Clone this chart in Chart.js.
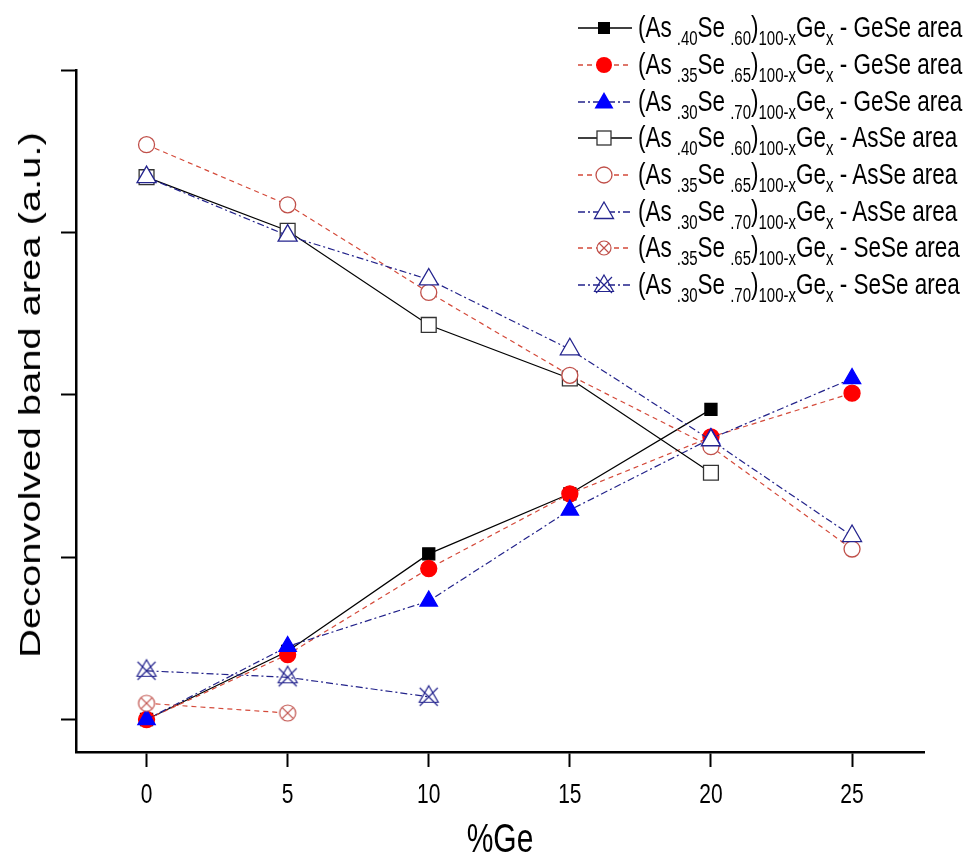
<!DOCTYPE html>
<html>
<head>
<meta charset="utf-8">
<script src="https://cdn.jsdelivr.net/npm/chart.js@4.4.1/dist/chart.umd.min.js"></script>
<style>
  html, body { margin: 0; padding: 0; background: #fff; overflow: hidden; }
  #wrap { position: relative; width: 972px; height: 856px; }
  #c { position: absolute; left: 0; top: 0; }
  #legend { position: absolute; left: 572px; top: 10px; font-family: "Liberation Sans", Arial, sans-serif; color: #000; }
  .row { height: 36.7px; display: flex; align-items: center; white-space: nowrap; }
  .row svg { width: 64px; height: 24px; flex: none; }
  .txt { display: inline-block; font-size: 22.5px; margin-left: 2px; line-height: 22px; transform: scaleY(1.33); transform-origin: 50% 50%; }
  .txt sub { font-size: 15px; vertical-align: -6px; line-height: 0; }
  .sp { margin-left: 5px; }
  #ytitleAnchor { position: absolute; left: 30px; top: 395px; width: 0; height: 0; }
  #ytitle { position: absolute; left: 0; top: 0; white-space: nowrap; font-family: "Liberation Sans", Arial, sans-serif; font-size: 30px; line-height: 34px; color: #000;
            transform-origin: 0 0; transform: rotate(-90deg) scaleX(1.33) translate(-50%, -50%); }
</style>
</head>
<body>
<div id="wrap">
  <canvas id="c" width="972" height="856"></canvas>
  <div id="ytitleAnchor"><div id="ytitle"></div></div>
  <div id="legend"></div>
</div>
<script>
// ---- data ----
const xValues = [0, 5, 10, 15, 20, 25];
const xTicks = [0, 5, 10, 15, 20, 25];
const yTicks = [0, 1, 2, 3, 4];

const geSe40 = [0.00, 0.42, 1.02, 1.39, 1.91, null];
const geSe35 = [0.00, 0.40, 0.93, 1.39, 1.74, 2.01];
const geSe30 = [0.00, 0.45, 0.73, 1.29, 1.73, 2.10];
const asSe40 = [3.34, 3.01, 2.43, 2.10, 1.52, null];
const asSe35 = [3.54, 3.17, 2.63, 2.12, 1.68, 1.05];
const asSe30 = [3.34, 2.98, 2.71, 2.28, 1.72, 1.13];
const seSe35 = [0.10, 0.04, null, null, null, null];
const seSe30 = [0.30, 0.26, 0.14, null, null, null];

const comps = [
  ['40', '60'], ['35', '65'], ['30', '70'],
  ['40', '60'], ['35', '65'], ['30', '70'],
  ['35', '65'], ['30', '70']
];
const bands = ['GeSe', 'GeSe', 'GeSe', 'AsSe', 'AsSe', 'AsSe', 'SeSe', 'SeSe'];
const xTitle = '%Ge';
const yTitle = 'Deconvolved band area (a.u.)';

// ---- styles ----
const TEXT_STRETCH = 1.33; // the reference typography is drawn taller than wide
const BLACK = '#000000', RED = '#ff0000', BLUE = '#0000ff';
const RLINE = '#d44a3a', BLINE = '#22228a', ROPEN = '#c0504a', BOPEN = '#24248e';
const DASH = [5, 4], DASHDOT = [7, 3, 2, 3];

function makeMarker(kind, color) {
  const s = 26, c = document.createElement('canvas');
  c.width = s; c.height = s;
  const g = c.getContext('2d');
  g.strokeStyle = color; g.lineWidth = 1.2; g.fillStyle = '#fff';
  const m = s / 2;
  if (kind === 'circlex') {
    const r = 8;
    g.beginPath(); g.arc(m, m, r, 0, Math.PI * 2); g.fill(); g.stroke();
    const d = r * Math.SQRT1_2;
    g.beginPath(); g.moveTo(m - d, m - d); g.lineTo(m + d, m + d);
    g.moveTo(m + d, m - d); g.lineTo(m - d, m + d); g.stroke();
  } else {
    const r = 11;
    const w = r * Math.sqrt(3);
    g.beginPath(); g.moveTo(m, m - r); g.lineTo(m + w / 2, m + r / 2); g.lineTo(m - w / 2, m + r / 2); g.closePath(); g.stroke();
    g.beginPath(); g.moveTo(m - 9, m - 9); g.lineTo(m + 9, m + 9);
    g.moveTo(m + 9, m - 9); g.lineTo(m - 9, m + 9); g.stroke();
  }
  return c;
}

const series = [
  { vals: geSe40, line: BLACK, dash: [], style: 'rect', r: 8.5, fill: BLACK, border: BLACK },
  { vals: geSe35, line: RLINE, dash: DASH, style: 'circle', r: 8, fill: RED, border: RED },
  { vals: geSe30, line: BLINE, dash: DASHDOT, style: 'triangle', r: 10, fill: BLUE, border: BLUE },
  { vals: asSe40, line: BLACK, dash: [], style: 'rect', r: 10.5, fill: '#fff', border: '#333' },
  { vals: asSe35, line: RLINE, dash: DASH, style: 'circle', r: 8, fill: '#fff', border: ROPEN },
  { vals: asSe30, line: BLINE, dash: DASHDOT, style: 'triangle', r: 11, fill: '#fff', border: BOPEN },
  { vals: seSe35, line: RLINE, dash: DASH, style: makeMarker('circlex', ROPEN), r: 9, fill: '#fff', border: ROPEN },
  { vals: seSe30, line: BLINE, dash: DASHDOT, style: makeMarker('trix', BOPEN), r: 11, fill: '#fff', border: BOPEN }
];

const datasets = series.map((s, i) => ({
  label: '(As.' + comps[i][0] + 'Se.' + comps[i][1] + ')100-xGex - ' + bands[i] + ' area',
  data: xValues.map((x, k) => ({ x: x, y: s.vals[k] })).filter(p => p.y !== null),
  borderColor: s.line,
  borderWidth: 1.2,
  borderDash: s.dash,
  pointStyle: s.style,
  pointRadius: s.r,
  pointHoverRadius: s.r,
  pointBackgroundColor: s.fill,
  pointBorderColor: s.border,
  pointBorderWidth: 1.3,
  tension: 0,
  fill: false,
  order: 10 - i
}));

// text on the canvas is stretched vertically (screen space) about its anchor, like the reference
const canvas = document.getElementById('c');
const ctx2d = canvas.getContext('2d');
const origFillText = ctx2d.fillText.bind(ctx2d);
ctx2d.fillText = function (t, x, y, mw) {
  const m = this.getTransform();
  const p = m.transformPoint(new DOMPoint(x, y));
  const st = new DOMMatrix().translate(p.x, p.y).scale(1, TEXT_STRETCH).translate(-p.x, -p.y).multiply(m);
  this.setTransform(st);
  if (mw === undefined) origFillText(t, x, y); else origFillText(t, x, y, mw);
  this.setTransform(m);
};

new Chart(canvas, {
  type: 'line',
  data: { datasets },
  options: {
    responsive: false,
    animation: false,
    devicePixelRatio: 1,
    layout: { padding: { top: 70, right: 48, left: 0, bottom: 0 } },
    plugins: { legend: { display: false }, tooltip: { enabled: false } },
    scales: {
      x: {
        type: 'linear', min: -2.5, max: 27.55,
        afterBuildTicks: sc => { sc.ticks = xTicks.map(v => ({ value: v })); },
        afterFit: sc => { sc.height = 104; },
        grid: { drawOnChartArea: false, drawTicks: true, tickLength: 15, tickColor: '#000', tickWidth: 2 },
        border: { display: true, color: '#000', width: 2.5 },
        ticks: { color: '#000', padding: 16, font: { family: 'Liberation Sans', size: 21 }, maxRotation: 0 },
        title: { display: true, text: xTitle, color: '#000', font: { family: 'Liberation Sans', size: 30 }, padding: { top: 0, bottom: -3 } }
      },
      y: {
        type: 'linear', min: -0.2, max: 4,
        afterBuildTicks: sc => { sc.ticks = yTicks.map(v => ({ value: v })); },
        afterFit: sc => { sc.width = 76; },
        grid: { drawOnChartArea: false, drawTicks: true, tickLength: 15, tickColor: '#000', tickWidth: 2 },
        border: { display: true, color: '#000', width: 2.5 },
        ticks: { display: false },
        title: { display: false, text: yTitle }
      }
    }
  }
});

document.getElementById('ytitle').textContent = yTitle;

// ---- HTML legend with subscripts ----
const legendMarkers = [
  '<rect x="26" y="6" width="12" height="12" fill="#000"/>',
  '<circle cx="32" cy="12" r="8" fill="#ff0000"/>',
  '<polygon points="32,2 41.5,18.5 22.5,18.5" fill="#0000ff"/>',
  '<rect x="25" y="5" width="14" height="14" fill="#fff" stroke="#333" stroke-width="1.3"/>',
  '<circle cx="32" cy="12" r="8" fill="#fff" stroke="' + ROPEN + '" stroke-width="1.3"/>',
  '<polygon points="32,2 41.5,18.5 22.5,18.5" fill="#fff" stroke="' + BOPEN + '" stroke-width="1.3"/>',
  '<circle cx="32" cy="12" r="7" fill="#fff" stroke="' + ROPEN + '" stroke-width="1.2"/><path d="M27,7 L37,17 M37,7 L27,17" stroke="' + ROPEN + '" stroke-width="1.2"/>',
  '<polygon points="32,2 41.5,18.5 22.5,18.5" fill="none" stroke="' + BOPEN + '" stroke-width="1.2"/><path d="M24,4 L40,20 M40,4 L24,20" stroke="' + BOPEN + '" stroke-width="1.2"/>'
];
const legendLines = series.map(s => {
  const da = s.dash.length ? ' stroke-dasharray="' + s.dash.join(' ') + '"' : '';
  return '<line x1="6" y1="12" x2="60" y2="12" stroke="' + s.line + '" stroke-width="1.3"' + da + '/>';
});
const leg = document.getElementById('legend');
series.forEach((s, i) => {
  const row = document.createElement('div');
  row.className = 'row';
  row.innerHTML = '<svg viewBox="0 0 64 24">' + legendLines[i] + legendMarkers[i] + '</svg>' +
    '<span class="txt">(As<sub class="sp">.' + comps[i][0] + '</sub>Se<sub class="sp">.' + comps[i][1] + '</sub>)<sub>100-x</sub>Ge<sub>x</sub> - ' + bands[i] + ' area</span>';
  leg.appendChild(row);
});
</script>
</body>
</html>
